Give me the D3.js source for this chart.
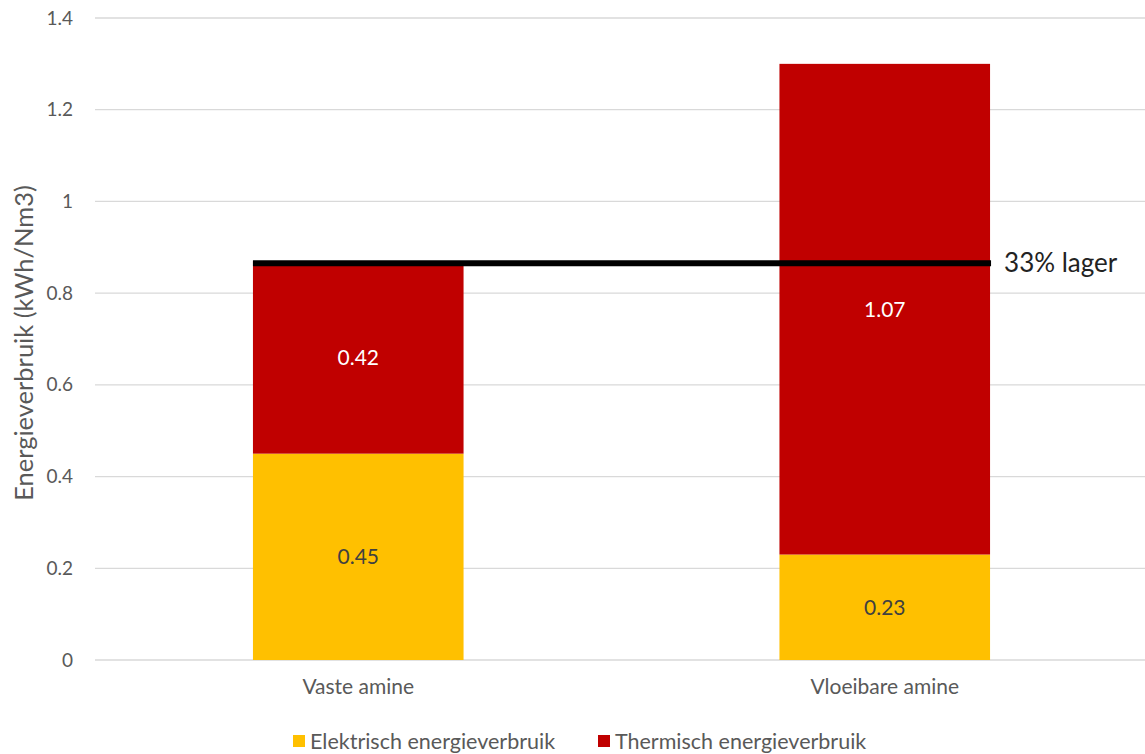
<!DOCTYPE html>
<html>
<head>
<meta charset="utf-8">
<script src="https://cdn.jsdelivr.net/npm/d3@7"></script>
<style>
  body { margin: 0; background: #fff; }
  text { font-family: Lato, "Open Sans", sans-serif; }
</style>
</head>
<body>
<svg id="drawing_region"></svg>
<script>
// data
const categories = ['Vaste amine', 'Vloeibare amine'];
const seriesNames = ['Elektrisch energieverbruik', 'Thermisch energieverbruik'];
const elektrisch = [0.45, 0.23];
const thermisch = [0.42, 1.07];
const yTicks = [0, 0.2, 0.4, 0.6, 0.8, 1, 1.2, 1.4];
const refValue = 0.865;
const refLabel = '33% lager';
const colors = ['#FFC000', '#C00000'];

const width = 1145, height = 754;
const margin = { top: 18, right: -3, bottom: 94, left: 95 };

const svg = d3.select('#drawing_region')
    .attr('width', width)
    .attr('height', height);

const chart = svg.append('g')
    .attr('transform', `translate(${margin.left}, ${margin.top})`);

const inner_width = width - margin.left - margin.right;
const inner_height = height - margin.top - margin.bottom;

const xscale = d3.scaleBand()
    .domain(categories)
    .range([0, inner_width])
    .paddingInner(0.6)
    .paddingOuter(0.3);

const yscale = d3.scaleLinear()
    .domain([0, 1.4])
    .range([inner_height, 0]);

// gridlines
chart.append('g')
    .selectAll('line')
    .data(yTicks)
    .join('line')
    .attr('x1', 0)
    .attr('x2', inner_width)
    .attr('y1', d => yscale(d))
    .attr('y2', d => yscale(d))
    .attr('stroke', '#d9d9d9')
    .attr('stroke-width', 1.3);

// y axis labels
const yaxis = d3.axisLeft(yscale).tickValues(yTicks).tickSize(0).tickPadding(22)
    .tickFormat(d => d3.format('~g')(d));
const yg = chart.append('g').call(yaxis);
yg.select('.domain').remove();
yg.selectAll('text')
    .attr('fill', '#595959')
    .style('font-size', '19px');

// x axis labels
const xaxis = d3.axisBottom(xscale).tickSize(0).tickPadding(19);
const xg = chart.append('g')
    .attr('transform', `translate(0, ${inner_height})`)
    .call(xaxis);
xg.select('.domain').remove();
xg.selectAll('text')
    .attr('fill', '#595959')
    .style('font-size', '21px');

// stacked bars
const table = categories.map((c, i) => ({
    cat: c,
    [seriesNames[0]]: elektrisch[i],
    [seriesNames[1]]: thermisch[i]
}));
const stacked = d3.stack().keys(seriesNames)(table);

const layers = chart.selectAll('g.layer')
    .data(stacked)
    .join('g')
    .attr('class', 'layer')
    .attr('fill', (d, i) => colors[i]);

layers.selectAll('rect')
    .data(d => d)
    .join('rect')
    .attr('x', d => xscale(d.data.cat))
    .attr('width', xscale.bandwidth())
    .attr('y', d => yscale(d[1]))
    .attr('height', d => yscale(d[0]) - yscale(d[1]));

// value labels
stacked.forEach((layer, li) => {
    chart.append('g')
        .selectAll('text')
        .data(layer)
        .join('text')
        .attr('x', d => xscale(d.data.cat) + xscale.bandwidth() / 2)
        .attr('y', d => yscale((d[0] + d[1]) / 2))
        .attr('dy', '0.35em')
        .attr('text-anchor', 'middle')
        .attr('fill', li === 0 ? '#404040' : '#ffffff')
        .style('font-size', '21px')
        .text(d => d3.format('.2f')(d[1] - d[0]));
});

// reference line
const x0 = xscale(categories[0]);
const x1 = xscale(categories[1]) + xscale.bandwidth() + 1;
chart.append('line')
    .attr('x1', x0)
    .attr('x2', x1)
    .attr('y1', yscale(refValue))
    .attr('y2', yscale(refValue))
    .attr('stroke', '#000')
    .attr('stroke-width', 6);

chart.append('text')
    .attr('x', x1 + 13)
    .attr('y', yscale(refValue) + 9)
    .attr('fill', '#222')
    .style('font-size', '26px')
    .text(refLabel);

// y axis title
svg.append('text')
    .attr('transform', `translate(33, 343) rotate(-90)`)
    .attr('text-anchor', 'middle')
    .attr('fill', '#595959')
    .style('font-size', '25.5px')
    .text('Energieverbruik (kWh/Nm3)');

// legend
const legendItems = [{ x: 293 }, { x: 598 }];
const legend = svg.append('g');
legend.selectAll('rect')
    .data(seriesNames)
    .join('rect')
    .attr('x', (d, i) => legendItems[i].x)
    .attr('y', 735)
    .attr('width', 12)
    .attr('height', 12)
    .attr('fill', (d, i) => colors[i]);
legend.selectAll('text')
    .data(seriesNames)
    .join('text')
    .attr('x', (d, i) => legendItems[i].x + 17)
    .attr('y', 741)
    .attr('dy', '0.35em')
    .attr('fill', '#595959')
    .style('font-size', '21.5px')
    .text(d => d);
</script>
</body>
</html>
